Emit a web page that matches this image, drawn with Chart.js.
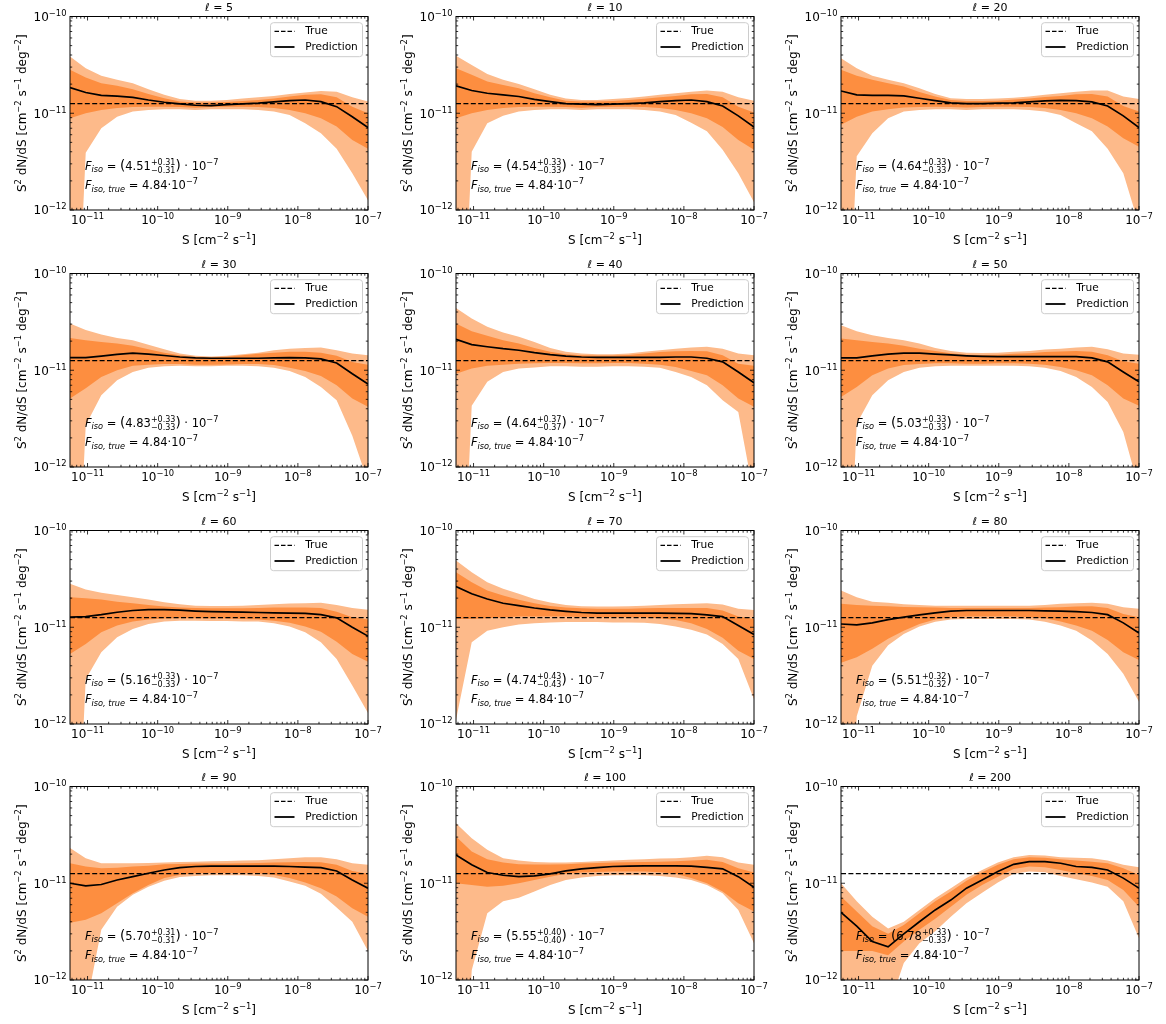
<!DOCTYPE html>
<html><head><meta charset="utf-8">
<script src="https://cdn.jsdelivr.net/npm/chart.js@4.4.0/dist/chart.umd.min.js"></script>
<style>
html,body{margin:0;padding:0;background:#fff;}
#wrap{position:relative;width:1166px;height:1024px;overflow:hidden;background:#fff;}
#wrap canvas{position:absolute;}
</style></head><body><div id="wrap"></div>
<script>
// ---------- DATA ----------
// S grid [cm^-2 s^-1]
const S = [5.62e-12, 9.42e-12, 1.57e-11, 2.64e-11, 4.42e-11, 7.38e-11, 1.24e-10, 2.07e-10, 3.46e-10, 5.79e-10,
           9.70e-10, 1.63e-9, 2.72e-9, 4.55e-9, 7.62e-9, 1.27e-8, 2.13e-8, 3.57e-8, 5.97e-8, 1.0e-7];
const xLimits = [5.62e-12, 1e-7];
const yLimits = [1e-12, 1e-10];
const xTickValues = [1e-11, 1e-10, 1e-9, 1e-8, 1e-7];
const xTickExp = ['−11', '−10', '−9', '−8', '−7'];      // labels: 10^exp
const yTickValues = [1e-12, 1e-11, 1e-10];
const yTickExp = ['−12', '−11', '−10'];
const UNIT = 1e-11;               // all curve values below are in units of 1e-11
const trueLevel = [1.26, 1.26];   // true S^2 dN/dS at the two ends of the S range
const ells = [5, 10, 20, 30, 40, 50, 60, 70, 80, 90, 100, 200];
const fisoMed = ['4.51', '4.54', '4.64', '4.83', '4.64', '5.03', '5.16', '4.74', '5.51', '5.70', '5.55', '6.78'];
const fisoErr = ['0.31', '0.33', '0.33', '0.33', '0.37', '0.33', '0.33', '0.43', '0.32', '0.31', '0.40', '0.33'];
const fisoTrue = '4.84';

// med = prediction, hi1/lo1 = inner band, hi2/lo2 = outer band
const med_5  = [1.84,1.64,1.53,1.50,1.46,1.37,1.30,1.25,1.21,1.20,1.23,1.25,1.27,1.31,1.35,1.37,1.32,1.17,0.92,0.71];
const hi1_5  = [2.81,2.34,2.04,1.92,1.77,1.58,1.43,1.32,1.29,1.29,1.31,1.34,1.37,1.42,1.49,1.55,1.57,1.46,1.17,1.00];
const lo1_5  = [0.89,1.00,1.08,1.13,1.16,1.17,1.17,1.16,1.14,1.16,1.17,1.17,1.16,1.13,1.08,1.00,0.89,0.73,0.53,0.43];
const hi2_5  = [3.86,2.92,2.44,2.22,2.04,1.77,1.55,1.40,1.35,1.35,1.37,1.42,1.46,1.51,1.58,1.64,1.70,1.67,1.46,1.32];
const lo2_5  = [0.0001,0.39,0.70,0.92,1.04,1.08,1.10,1.10,1.08,1.10,1.10,1.10,1.08,1.04,0.96,0.79,0.62,0.43,0.24,0.126];

const med_10 = [1.92,1.72,1.61,1.55,1.49,1.39,1.32,1.26,1.24,1.23,1.24,1.26,1.28,1.32,1.35,1.37,1.32,1.19,0.94,0.72];
const hi1_10 = [2.92,2.50,2.13,1.96,1.81,1.61,1.46,1.35,1.32,1.32,1.34,1.37,1.41,1.46,1.51,1.57,1.58,1.46,1.17,1.02];
const lo1_10 = [0.89,1.00,1.08,1.13,1.16,1.17,1.17,1.16,1.14,1.16,1.17,1.17,1.16,1.13,1.08,1.00,0.89,0.72,0.53,0.42];
const hi2_10 = [3.92,3.16,2.55,2.22,2.01,1.77,1.55,1.42,1.37,1.37,1.40,1.44,1.49,1.55,1.61,1.67,1.72,1.67,1.46,1.35];
const lo2_10 = [0.0001,0.40,0.79,0.94,1.04,1.08,1.10,1.10,1.08,1.10,1.10,1.10,1.08,1.04,0.96,0.80,0.65,0.42,0.24,0.12];

const med_20 = [1.70,1.55,1.53,1.53,1.51,1.43,1.35,1.28,1.26,1.26,1.27,1.28,1.31,1.34,1.36,1.35,1.31,1.19,0.94,0.71];
const hi1_20 = [2.81,2.44,2.22,2.04,1.89,1.66,1.49,1.37,1.34,1.34,1.35,1.39,1.42,1.47,1.51,1.57,1.58,1.49,1.19,1.04];
const lo1_20 = [0.76,0.92,1.04,1.10,1.15,1.16,1.17,1.16,1.15,1.16,1.17,1.17,1.16,1.13,1.08,1.00,0.89,0.73,0.55,0.45];
const hi2_20 = [3.71,2.92,2.44,2.22,2.04,1.81,1.58,1.43,1.40,1.40,1.42,1.45,1.49,1.55,1.61,1.67,1.72,1.72,1.49,1.40];
const lo2_20 = [0.0001,0.36,0.62,0.89,1.04,1.08,1.10,1.10,1.08,1.10,1.10,1.10,1.08,1.04,0.96,0.79,0.65,0.43,0.24,0.07];

const med_30 = [1.35,1.35,1.40,1.46,1.50,1.47,1.42,1.37,1.34,1.33,1.33,1.33,1.33,1.34,1.35,1.34,1.31,1.19,0.92,0.72];
const hi1_30 = [2.16,2.04,1.96,1.89,1.79,1.65,1.52,1.43,1.37,1.36,1.38,1.43,1.48,1.52,1.55,1.55,1.52,1.41,1.22,1.14];
const lo1_30 = [0.51,0.65,0.85,1.00,1.11,1.14,1.16,1.16,1.14,1.14,1.15,1.16,1.16,1.13,1.06,0.98,0.87,0.70,0.51,0.42];
const hi2_30 = [3.04,2.60,2.34,2.16,2.04,1.84,1.65,1.49,1.41,1.39,1.41,1.46,1.52,1.61,1.67,1.70,1.72,1.61,1.49,1.43];
const lo2_30 = [0.0001,0.27,0.55,0.79,0.96,1.06,1.10,1.11,1.10,1.10,1.11,1.11,1.10,1.06,0.98,0.85,0.67,0.49,0.21,0.07];

const med_40 = [2.09,1.84,1.75,1.67,1.61,1.52,1.45,1.40,1.37,1.36,1.36,1.36,1.36,1.36,1.37,1.37,1.33,1.22,0.96,0.74];
const hi1_40 = [3.04,2.53,2.27,2.04,1.89,1.70,1.55,1.46,1.43,1.42,1.42,1.44,1.49,1.54,1.57,1.58,1.57,1.43,1.17,1.11];
const lo1_40 = [0.92,1.04,1.11,1.14,1.17,1.18,1.19,1.19,1.18,1.18,1.19,1.19,1.17,1.14,1.08,0.98,0.89,0.70,0.51,0.42];
const hi2_40 = [4.41,3.42,2.81,2.45,2.22,1.96,1.70,1.55,1.49,1.46,1.46,1.49,1.55,1.61,1.67,1.72,1.75,1.67,1.49,1.43];
const lo2_40 = [0.0001,0.43,0.76,0.96,1.04,1.07,1.10,1.10,1.09,1.09,1.10,1.10,1.09,1.06,0.96,0.85,0.70,0.49,0.37,0.05];

const med_50 = [1.34,1.34,1.41,1.47,1.50,1.50,1.47,1.44,1.41,1.39,1.38,1.38,1.38,1.38,1.38,1.38,1.34,1.22,0.96,0.76];
const hi1_50 = [2.13,2.04,1.96,1.89,1.79,1.67,1.58,1.50,1.45,1.44,1.45,1.48,1.50,1.54,1.56,1.58,1.55,1.43,1.24,1.17];
const lo1_50 = [0.53,0.67,0.89,1.04,1.13,1.16,1.18,1.18,1.17,1.17,1.18,1.18,1.17,1.14,1.08,1.00,0.89,0.70,0.51,0.43];
const hi2_50 = [2.92,2.53,2.30,2.16,2.04,1.89,1.70,1.58,1.52,1.51,1.52,1.55,1.58,1.64,1.67,1.72,1.75,1.65,1.49,1.45];
const lo2_50 = [0.0001,0.28,0.55,0.79,0.96,1.06,1.10,1.11,1.11,1.11,1.11,1.11,1.10,1.06,0.98,0.85,0.67,0.47,0.23,0.06];

const med_60 = [1.27,1.29,1.35,1.43,1.49,1.52,1.52,1.50,1.47,1.45,1.44,1.43,1.42,1.41,1.40,1.39,1.35,1.25,1.00,0.81];
const hi1_60 = [2.04,2.00,1.94,1.84,1.77,1.70,1.64,1.60,1.58,1.57,1.57,1.57,1.58,1.60,1.60,1.60,1.58,1.45,1.27,1.20];
const lo1_60 = [0.53,0.67,0.89,1.04,1.15,1.20,1.23,1.24,1.24,1.23,1.23,1.22,1.20,1.17,1.11,1.02,0.90,0.71,0.53,0.44];
const hi2_60 = [2.81,2.45,2.27,2.16,2.04,1.94,1.81,1.73,1.67,1.66,1.66,1.67,1.70,1.73,1.76,1.77,1.79,1.70,1.58,1.52];
const lo2_60 = [0.0001,0.29,0.55,0.79,0.96,1.08,1.15,1.17,1.17,1.16,1.16,1.15,1.15,1.10,1.02,0.89,0.70,0.47,0.25,0.13];

const med_70 = [2.64,2.22,1.96,1.77,1.67,1.58,1.51,1.46,1.42,1.40,1.40,1.40,1.40,1.40,1.39,1.38,1.34,1.29,1.04,0.84];
const hi1_70 = [3.71,2.92,2.40,2.13,1.92,1.77,1.66,1.60,1.57,1.55,1.55,1.55,1.57,1.58,1.58,1.58,1.58,1.49,1.29,1.22];
const lo1_70 = [1.22,1.22,1.24,1.27,1.29,1.29,1.29,1.29,1.28,1.27,1.27,1.27,1.26,1.24,1.19,1.10,0.96,0.78,0.57,0.47];
const hi2_70 = [4.90,3.71,2.92,2.50,2.22,1.96,1.80,1.70,1.65,1.64,1.64,1.65,1.67,1.70,1.73,1.75,1.77,1.72,1.55,1.51];
const lo2_70 = [0.11,0.70,0.92,1.00,1.07,1.10,1.12,1.13,1.13,1.13,1.12,1.12,1.11,1.08,1.02,0.94,0.84,0.67,0.47,0.18];

const med_80 = [1.08,1.06,1.11,1.20,1.27,1.34,1.41,1.47,1.49,1.49,1.49,1.49,1.49,1.48,1.47,1.45,1.42,1.35,1.11,0.87];
const hi1_80 = [1.75,1.70,1.67,1.65,1.62,1.61,1.60,1.58,1.58,1.58,1.58,1.58,1.58,1.60,1.61,1.64,1.65,1.58,1.37,1.27];
const lo1_80 = [0.43,0.49,0.60,0.76,0.92,1.08,1.20,1.27,1.29,1.29,1.29,1.29,1.27,1.24,1.15,1.04,0.92,0.74,0.55,0.46];
const hi2_80 = [2.40,2.04,1.84,1.79,1.73,1.70,1.67,1.67,1.67,1.67,1.67,1.67,1.67,1.70,1.75,1.77,1.79,1.75,1.61,1.55];
const lo2_80 = [0.0001,0.12,0.40,0.65,0.85,1.02,1.14,1.20,1.22,1.22,1.22,1.22,1.20,1.14,1.04,0.92,0.73,0.53,0.33,0.17];

const med_90 = [1.00,0.94,0.97,1.08,1.17,1.27,1.37,1.45,1.49,1.50,1.50,1.50,1.50,1.50,1.49,1.47,1.45,1.34,1.08,0.89];
const hi1_90 = [1.61,1.49,1.43,1.45,1.49,1.52,1.57,1.58,1.60,1.60,1.60,1.61,1.62,1.64,1.65,1.66,1.65,1.55,1.34,1.25];
const lo1_90 = [0.39,0.42,0.49,0.62,0.79,0.96,1.13,1.22,1.27,1.28,1.28,1.28,1.27,1.22,1.13,1.02,0.89,0.73,0.55,0.45];
const hi2_90 = [2.31,1.81,1.61,1.61,1.61,1.62,1.64,1.66,1.67,1.69,1.70,1.72,1.73,1.77,1.81,1.86,1.86,1.77,1.61,1.55];
const lo2_90 = [0.0001,0.05,0.33,0.57,0.76,0.92,1.06,1.16,1.19,1.21,1.21,1.21,1.19,1.15,1.04,0.94,0.78,0.56,0.40,0.20];

const med_100 = [1.96,1.55,1.29,1.21,1.17,1.19,1.25,1.34,1.41,1.45,1.49,1.50,1.51,1.51,1.51,1.50,1.46,1.41,1.17,0.91];
const hi1_100 = [3.04,2.13,1.77,1.64,1.57,1.56,1.56,1.57,1.60,1.62,1.64,1.65,1.66,1.67,1.69,1.72,1.75,1.66,1.43,1.29];
const lo1_100 = [1.00,0.96,0.92,0.94,1.00,1.08,1.17,1.25,1.29,1.31,1.32,1.32,1.32,1.30,1.25,1.13,1.00,0.82,0.62,0.51];
const hi2_100 = [4.17,2.92,2.22,1.81,1.72,1.66,1.64,1.64,1.66,1.69,1.72,1.75,1.77,1.80,1.81,1.86,1.92,1.86,1.64,1.55];
const lo2_100 = [0.0001,0.126,0.49,0.65,0.71,0.82,0.96,1.08,1.15,1.19,1.21,1.21,1.21,1.19,1.15,1.08,0.96,0.79,0.53,0.24];

const med_200 = [0.50,0.36,0.25,0.22,0.30,0.40,0.53,0.67,0.89,1.08,1.32,1.57,1.67,1.67,1.61,1.49,1.46,1.37,1.13,0.89];
const hi1_200 = [0.73,0.51,0.36,0.30,0.37,0.49,0.65,0.82,1.06,1.30,1.55,1.77,1.86,1.84,1.77,1.72,1.67,1.61,1.43,1.22];
const lo1_200 = [0.20,0.20,0.20,0.18,0.25,0.33,0.43,0.57,0.76,0.96,1.17,1.40,1.49,1.46,1.37,1.27,1.19,1.08,0.85,0.57];
const hi2_200 = [1.00,0.65,0.45,0.34,0.40,0.53,0.70,0.89,1.13,1.37,1.64,1.86,1.96,1.94,1.86,1.84,1.81,1.72,1.55,1.46];
const lo2_200 = [0.08,0.08,0.08,0.05,0.15,0.24,0.32,0.45,0.62,0.80,1.02,1.25,1.32,1.30,1.19,1.10,1.02,0.92,0.65,0.27];

const panels = [
  {med: med_5,   hi1: hi1_5,   lo1: lo1_5,   hi2: hi2_5,   lo2: lo2_5},
  {med: med_10,  hi1: hi1_10,  lo1: lo1_10,  hi2: hi2_10,  lo2: lo2_10},
  {med: med_20,  hi1: hi1_20,  lo1: lo1_20,  hi2: hi2_20,  lo2: lo2_20},
  {med: med_30,  hi1: hi1_30,  lo1: lo1_30,  hi2: hi2_30,  lo2: lo2_30},
  {med: med_40,  hi1: hi1_40,  lo1: lo1_40,  hi2: hi2_40,  lo2: lo2_40},
  {med: med_50,  hi1: hi1_50,  lo1: lo1_50,  hi2: hi2_50,  lo2: lo2_50},
  {med: med_60,  hi1: hi1_60,  lo1: lo1_60,  hi2: hi2_60,  lo2: lo2_60},
  {med: med_70,  hi1: hi1_70,  lo1: lo1_70,  hi2: hi2_70,  lo2: lo2_70},
  {med: med_80,  hi1: hi1_80,  lo1: lo1_80,  hi2: hi2_80,  lo2: lo2_80},
  {med: med_90,  hi1: hi1_90,  lo1: lo1_90,  hi2: hi2_90,  lo2: lo2_90},
  {med: med_100, hi1: hi1_100, lo1: lo1_100, hi2: hi2_100, lo2: lo2_100},
  {med: med_200, hi1: hi1_200, lo1: lo1_200, hi2: hi2_200, lo2: lo2_200}
];

// ---------- STYLE / LAYOUT ----------
const FONT = '"DejaVu Sans", "Liberation Sans", sans-serif';
const LIGHT = 'rgb(253,186,138)';
const DARK = 'rgb(253,142,64)';
const canvasLeft = [0, 386, 771];
const canvasTop = [0, 257, 514, 770];
const CW = 390, CH = 257;
const BASE = 12, SUP = 8.4;

function pts(arr) { return S.map((x, i) => ({x: x, y: arr[i] * UNIT})); }

function fontOf(r) { return `${r.italic ? 'italic ' : ''}${r.size}px ${FONT}`; }
function widthOf(ctx, list) {
  let w = 0;
  for (const r of list) {
    if (r.stack) {
      ctx.font = fontOf(r);
      w += Math.max(ctx.measureText(r.stack[0]).width, ctx.measureText(r.stack[1]).width);
    } else {
      ctx.font = fontOf(r);
      w += ctx.measureText(r.t).width;
    }
  }
  return w;
}
function runs(ctx, x, y, list, align) {
  if (align === 'center') x -= widthOf(ctx, list) / 2;
  else if (align === 'right') x -= widthOf(ctx, list);
  ctx.textAlign = 'left';
  ctx.textBaseline = 'alphabetic';
  for (const r of list) {
    ctx.font = fontOf(r);
    if (r.stack) {
      const w = Math.max(ctx.measureText(r.stack[0]).width, ctx.measureText(r.stack[1]).width);
      ctx.fillText(r.stack[0], x, y + r.supDy);
      ctx.fillText(r.stack[1], x, y + r.subDy);
      x += w;
    } else {
      ctx.fillText(r.t, x, y + (r.dy || 0));
      x += ctx.measureText(r.t).width;
    }
  }
}
const pow10 = e => [{t: '10', size: BASE}, {t: e, size: SUP, dy: -5}];
const xTitleRuns = [{t: 'S [cm', size: BASE}, {t: '−2', size: SUP, dy: -5}, {t: ' s', size: BASE},
                    {t: '−1', size: SUP, dy: -5}, {t: ']', size: BASE}];
const yTitleRuns = [{t: 'S', size: BASE}, {t: '2', size: SUP, dy: -5}, {t: ' dN/dS [cm', size: BASE},
                    {t: '−2', size: SUP, dy: -5}, {t: ' s', size: BASE}, {t: '−1', size: SUP, dy: -5},
                    {t: ' deg', size: BASE}, {t: '−2', size: SUP, dy: -5}, {t: ']', size: BASE}];

const decor = {
  id: 'decor',
  afterDraw(chart) {
    const o = chart.options.plugins.decor;
    const ctx = chart.ctx;
    const {left, right, top, bottom} = chart.chartArea;
    const xs = chart.scales.x, ys = chart.scales.y;
    ctx.save();
    // frame
    ctx.strokeStyle = '#000';
    ctx.lineWidth = 1;
    ctx.strokeRect(left, top, right - left, bottom - top);
    // inward ticks on all four sides
    ctx.lineWidth = 0.8;
    const line = (a, b, c, d) => { ctx.beginPath(); ctx.moveTo(a, b); ctx.lineTo(c, d); ctx.stroke(); };
    const tickX = (v, len) => {
      const p = xs.getPixelForValue(v);
      if (p < left - 0.5 || p > right + 0.5) return;
      line(p, bottom, p, bottom - len); line(p, top, p, top + len);
    };
    const tickY = (v, len) => {
      const p = ys.getPixelForValue(v);
      if (p < top - 0.5 || p > bottom + 0.5) return;
      line(left, p, left + len, p); line(right, p, right - len, p);
    };
    const minorMult = [2, 3, 4, 5, 6, 7, 8, 9];
    [1e-12, 1e-11, 1e-10, 1e-9, 1e-8].forEach(d => minorMult.forEach(m => tickX(m * d, 2.2)));
    xTickValues.forEach(v => tickX(v, 4));
    [1e-12, 1e-11].forEach(d => minorMult.forEach(m => tickY(m * d, 2.2)));
    yTickValues.forEach(v => tickY(v, 4));

    ctx.fillStyle = '#000';
    // tick labels (positions from the chart's scales)
    xTickValues.forEach((v, i) => runs(ctx, xs.getPixelForValue(v), bottom + 14, pow10(xTickExp[i]), 'center'));
    yTickValues.forEach((v, i) => runs(ctx, left - 3.5, ys.getPixelForValue(v) + 4.3, pow10(yTickExp[i]), 'right'));
    // axis titles
    runs(ctx, (left + right) / 2, bottom + 34, xTitleRuns, 'center');
    ctx.save();
    ctx.translate(left - 44, (top + bottom) / 2);
    ctx.rotate(-Math.PI / 2);
    runs(ctx, 0, 0, yTitleRuns, 'center');
    ctx.restore();

    // title
    ctx.font = `11px ${FONT}`;
    ctx.textAlign = 'center';
    ctx.textBaseline = 'middle';
    ctx.fillText(`ℓ = ${o.ell}`, (left + right) / 2, 8);

    // legend
    const bw = 92, bh = 34;
    const bx = right - 5.5 - bw, by = top + 6.2;
    const r = 3;
    ctx.beginPath();
    ctx.moveTo(bx + r, by); ctx.lineTo(bx + bw - r, by); ctx.quadraticCurveTo(bx + bw, by, bx + bw, by + r);
    ctx.lineTo(bx + bw, by + bh - r); ctx.quadraticCurveTo(bx + bw, by + bh, bx + bw - r, by + bh);
    ctx.lineTo(bx + r, by + bh); ctx.quadraticCurveTo(bx, by + bh, bx, by + bh - r);
    ctx.lineTo(bx, by + r); ctx.quadraticCurveTo(bx, by, bx + r, by);
    ctx.closePath();
    ctx.fillStyle = 'rgba(255,255,255,0.8)';
    ctx.fill();
    ctx.strokeStyle = '#cccccc';
    ctx.lineWidth = 1;
    ctx.stroke();
    ctx.strokeStyle = '#000';
    ctx.lineWidth = 1.3;
    ctx.setLineDash([4.5, 2]);
    line(bx + 4, by + 8.7, bx + 24, by + 8.7);
    ctx.setLineDash([]);
    ctx.lineWidth = 1.8;
    line(bx + 4, by + 24.3, bx + 24, by + 24.3);
    ctx.fillStyle = '#000';
    ctx.textAlign = 'left';
    ctx.textBaseline = 'middle';
    ctx.font = `10.6px ${FONT}`;
    ctx.fillText('True', bx + 34.7, by + 9);
    ctx.fillText('Prediction', bx + 34.7, by + 24.6);

    // annotation
    const h = bottom - top;
    const ax = left + 0.05 * (right - left);
    const y1 = bottom - 0.2 * h - 1.5;
    const y2 = bottom - 0.1 * h - 1.5;
    runs(ctx, ax, y1, [
      {t: 'F', italic: true, size: 11.5},
      {t: 'iso', italic: true, size: 8.2, dy: 2.6},
      {t: ' = ', size: 11.5},
      {t: '(', size: 13.5, dy: 0.5},
      {t: o.med, size: 11.5},
      {stack: ['+' + o.err, '−' + o.err], size: 8, supDy: -5, subDy: 3.5},
      {t: ')', size: 13.5, dy: 0.5},
      {t: ' · 10', size: 11.5},
      {t: '−7', size: 8.2, dy: -5}
    ], 'left');
    runs(ctx, ax, y2, [
      {t: 'F', italic: true, size: 11.5},
      {t: 'iso, true', italic: true, size: 8.2, dy: 2.6},
      {t: ' = ' + fisoTrue + '·10', size: 11.5},
      {t: '−7', size: 8.2, dy: -5}
    ], 'left');
    ctx.restore();
  }
};

const wrap = document.getElementById('wrap');
ells.forEach((ell, k) => {
  const col = k % 3, row = Math.floor(k / 3);
  const cv = document.createElement('canvas');
  cv.width = CW; cv.height = CH;
  cv.style.left = canvasLeft[col] + 'px';
  cv.style.top = canvasTop[row] + 'px';
  cv.style.width = CW + 'px'; cv.style.height = CH + 'px';
  wrap.appendChild(cv);
  const p = panels[k];
  new Chart(cv, {
    type: 'line',
    data: {
      datasets: [
        {label: 'Prediction', data: pts(p.med), borderColor: '#000', borderWidth: 1.7, pointRadius: 0, fill: false},
        {label: 'True', data: [{x: S[0], y: trueLevel[0] * UNIT}, {x: S[S.length - 1], y: trueLevel[1] * UNIT}],
         borderColor: '#000', borderWidth: 1.3, borderDash: [5, 2.4], pointRadius: 0, fill: false},
        {label: 'inner upper', data: pts(p.hi1), borderColor: 'rgba(0,0,0,0)', borderWidth: 0, pointRadius: 0, backgroundColor: DARK, fill: '+1'},
        {label: 'inner lower', data: pts(p.lo1), borderColor: 'rgba(0,0,0,0)', borderWidth: 0, pointRadius: 0, fill: false},
        {label: 'outer upper', data: pts(p.hi2), borderColor: 'rgba(0,0,0,0)', borderWidth: 0, pointRadius: 0, backgroundColor: LIGHT, fill: '+1'},
        {label: 'outer lower', data: pts(p.lo2), borderColor: 'rgba(0,0,0,0)', borderWidth: 0, pointRadius: 0, fill: false}
      ]
    },
    options: {
      responsive: false,
      animation: false,
      devicePixelRatio: 1,
      events: [],
      layout: {padding: {top: 16.5, right: 22, left: 0, bottom: 0}},
      plugins: {
        legend: {display: false},
        tooltip: {enabled: false},
        title: {display: false},
        decor: {ell: ell, med: fisoMed[k], err: fisoErr[k]}
      },
      scales: {
        x: {
          type: 'logarithmic', position: 'bottom', min: xLimits[0], max: xLimits[1],
          grid: {display: false, drawTicks: false}, border: {display: false},
          afterBuildTicks: s => { s.ticks = xTickValues.map(v => ({value: v})); },
          afterFit: s => { s.height = 47; },
          ticks: {display: false},
          title: {display: false}
        },
        y: {
          type: 'logarithmic', position: 'left', min: yLimits[0], max: yLimits[1],
          grid: {display: false, drawTicks: false}, border: {display: false},
          afterBuildTicks: s => { s.ticks = yTickValues.map(v => ({value: v})); },
          afterFit: s => { s.width = 70; },
          ticks: {display: false},
          title: {display: false}
        }
      }
    },
    plugins: [decor]
  });
});
</script>
</body></html>
